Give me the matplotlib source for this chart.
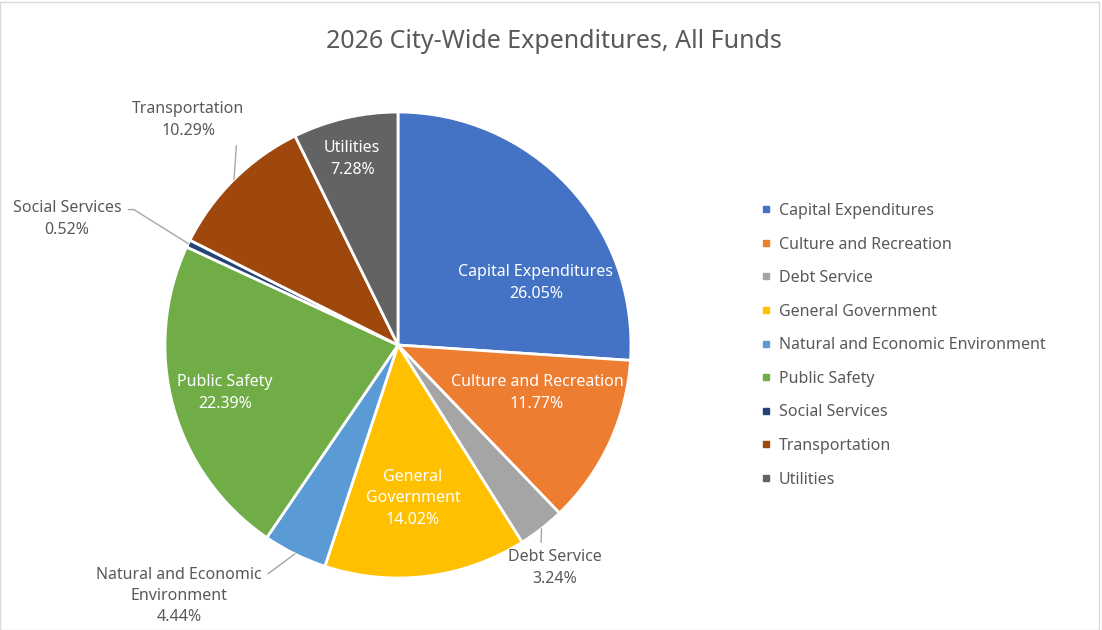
import matplotlib
matplotlib.use("Agg")
import matplotlib.pyplot as plt
import numpy as np
from matplotlib.lines import Line2D
from matplotlib.patches import Rectangle

categories = ["Capital Expenditures", "Culture and Recreation", "Debt Service",
              "General Government", "Natural and Economic Environment",
              "Public Safety", "Social Services", "Transportation", "Utilities"]
shares = [26.05, 11.77, 3.24, 14.02, 4.44, 22.39, 0.52, 10.29, 7.28]
slice_labels = ["Capital Expenditures", "Culture and Recreation", "Debt Service",
                "General\nGovernment", "Natural and Economic\nEnvironment",
                "Public Safety", "Social Services", "Transportation", "Utilities"]
colors = ["#4472C4", "#ED7D31", "#A5A5A5", "#FFC000", "#5B9BD5",
          "#70AD47", "#264478", "#9E480E", "#636363"]

# label placement (data units, pie radius = 1); outside ones get a leader line
label_pos = [(0.592, 0.266), (0.597, -0.206), (0.674, -0.957), (0.064, -0.657),
             (-0.94, -1.077), (-0.742, -0.206), (-1.42, 0.541), (-0.901, 0.966),
             (-0.197, 0.798)]
outside = [False, False, True, False, True, False, True, True, False]
# leader line style for the outside labels: (relpos on text, connection)
leaders = {
    2: ((0.35, 1.0), "arc3"),
    4: ((1.0, 0.8), "arc3"),
    6: ((1.0, 0.75), "angle,angleA=0,angleB=148,rad=0"),
    7: ((1.0, 0.25), "angle,angleA=0,angleB=86,rad=0"),
}

plt.rcParams['font.family'] = ['Noto Sans', 'DejaVu Sans']
GREY = "#595959"
FS = 11.5

fig = plt.figure(figsize=(11.02, 6.30), dpi=100)
ax = fig.add_axes([0.1497, 0.0825, 0.4229, 0.7397])

wedges, _ = ax.pie(shares, colors=colors, startangle=90, counterclock=False,
                   radius=1, wedgeprops=dict(edgecolor="white", linewidth=2))
ax.set_xlim(-1, 1)
ax.set_ylim(-1, 1)
ax.set_aspect("equal")
ax.axis("off")

for i, (w, lab, val, pos, out) in enumerate(zip(wedges, slice_labels, shares,
                                                  label_pos, outside)):
    txt = "{}\n{:.2f}%".format(lab, val)
    if out:
        mid = np.deg2rad((w.theta1 + w.theta2) / 2)
        edge = (np.cos(mid), np.sin(mid))
        relpos, conn = leaders[i]
        ax.annotate(txt, xy=edge, xytext=pos, ha="center", va="center",
                    fontsize=FS, color=GREY, linespacing=1.45,
                    annotation_clip=False,
                    arrowprops=dict(arrowstyle="-", color="#a6a6a6", lw=1,
                                    shrinkA=3, shrinkB=0, relpos=relpos,
                                    connectionstyle=conn))
    else:
        ax.text(pos[0], pos[1], txt, ha="center", va="center", fontsize=FS,
                color="white", linespacing=1.45)

fig.text(0.503, 0.934, "2026 City-Wide Expenditures, All Funds", ha="center",
         va="center", fontsize=18, color=GREY)

handles = [Line2D([0], [0], marker="s", linestyle="none", markersize=5,
                  markerfacecolor=c, markeredgecolor=c) for c in colors]
leg = fig.legend(handles, categories, loc="upper left",
                 bbox_to_anchor=(0.685, 0.688), frameon=False, fontsize=FS,
                 labelspacing=1.1, handlelength=0.6, handletextpad=0.5,
                 borderaxespad=0)
for t in leg.get_texts():
    t.set_color(GREY)

fig.patches.append(Rectangle((0, 0), 0.997, 0.997, transform=fig.transFigure,
                             fill=False, edgecolor="#d9d9d9", lw=1))

fig.savefig("out.png", dpi=100)
